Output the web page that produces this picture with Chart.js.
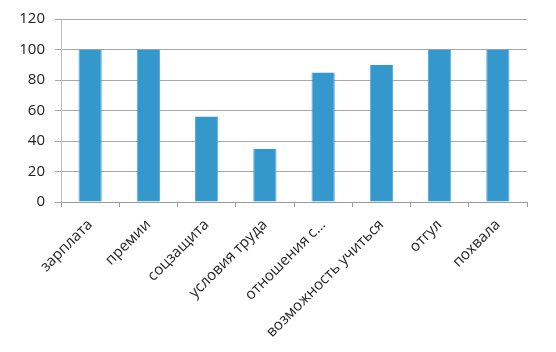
<!DOCTYPE html>
<html>
<head>
<meta charset="utf-8">
<script src="https://cdn.jsdelivr.net/npm/chart.js@4"></script>
<style>
  html, body { margin: 0; padding: 0; background: #fff; }
  #wrap { width: 556px; height: 352px; }
</style>
</head>
<body>
<div id="wrap"><canvas id="myChart" width="556" height="352"></canvas></div>
<script>
// данные
const categorias = ['зарплата', 'премии', 'соцзащита', 'условия труда', 'отношения с…', 'возможность учиться', 'отгул', 'похвала'];
const valores = [100, 100, 56, 35, 85, 90, 100, 100];
const ejeY = { min: 0, max: 120, paso: 20 };

const chartGraph = document.getElementById('myChart');

const data = {
  labels: categorias,
  datasets: [{
    data: valores,
    backgroundColor: '#3498cc',
    borderColor: '#5aaedb',
    borderWidth: { left: 1, right: 1, top: 0, bottom: 0 },
    barPercentage: 0.4,
    categoryPercentage: 1
  }]
};

const config = {
  type: 'bar',
  data: data,
  options: {
    responsive: false,
    animation: false,
    layout: { padding: { left: 0, right: 29, top: 16, bottom: 0 } },
    plugins: { legend: { display: false }, tooltip: { enabled: false } },
    scales: {
      x: {
        grid: { offset: true, drawOnChartArea: false, drawTicks: true, tickLength: 5, color: '#999' },
        border: { color: '#999' },
        ticks: {
          minRotation: 45, maxRotation: 45, autoSkip: false,
          color: '#222',
          padding: 9,
          font: { family: 'Open Sans', size: 15 }
        },
        afterFit: (scale) => { scale.height = 150; }
      },
      y: {
        min: ejeY.min, max: ejeY.max,
        grid: { color: '#a8a8a8', tickLength: 6 },
        border: { color: '#bbb' },
        ticks: {
          stepSize: ejeY.paso,
          color: '#222',
          padding: 10,
          font: { family: 'Open Sans', size: 15 }
        },
        afterFit: (scale) => { scale.width = 61; }
      }
    }
  }
};

window.myChart = new Chart(chartGraph, config);
</script>
</body>
</html>
